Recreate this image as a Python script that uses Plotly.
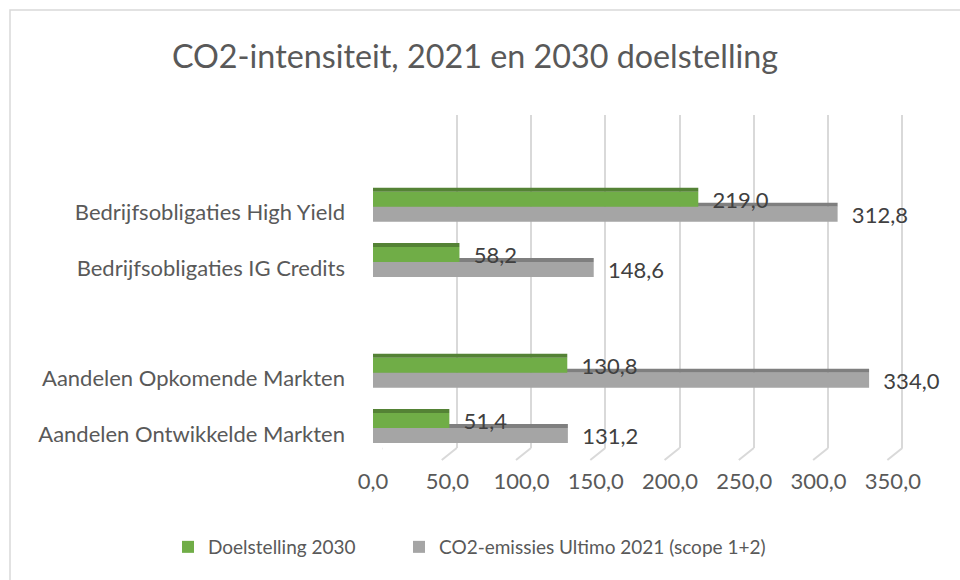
import plotly.graph_objects as go

# ---- data ----
categories = [
    "Aandelen Ontwikkelde Markten",
    "Aandelen Opkomende Markten",
    " ",
    "Bedrijfsobligaties IG Credits",
    "Bedrijfsobligaties High Yield",
]
doel_2030 = [51.4, 130.8, None, 58.2, 219.0]
ultimo_2021 = [131.2, 334.0, None, 148.6, 312.8]
x_ticks = [0, 50, 100, 150, 200, 250, 300, 350]

series_names = ["Doelstelling 2030", "CO2-emissies Ultimo 2021 (scope 1+2)"]
title_text = "CO2-intensiteit, 2021 en 2030 doelstelling"

# ---- style ----
FONT = "Lato, Carlito, Calibri, sans-serif"
GREEN = "#70AD47"
GREEN_TOP = "#548235"
GRAY = "#A5A5A5"
GRAY_TOP = "#7F7F7F"
GRID = "#D9D9D9"
TXT = "#595959"
LBL = "#404040"
FS = 22
LEG_FS = 19

W, H = 960, 580
ML, MR, MT, MB = 373, 30, 115, 120
PW, PH = W - ML - MR, H - MT - MB
XMAX = 375
SHIFT = 9.5  # back-wall shift in px

BAR = 0.271
TOP = 0.072

fig = go.Figure()

common = dict(orientation="h", xaxis="x2", yaxis="y2", cliponaxis=False)

# gray top face (behind)
fig.add_trace(go.Bar(
    y=categories, x=ultimo_2021, offset=0, width=TOP,
    marker=dict(color=GRAY_TOP, line=dict(width=0)), showlegend=False,
    hoverinfo="skip", **common))
# gray front
fig.add_trace(go.Bar(
    y=categories, x=ultimo_2021, offset=-BAR, width=BAR,
    name=series_names[1], legend="legend2",
    marker=dict(color=GRAY, line=dict(width=0)),
    texttemplate="\u00a0\u00a0%{x:.1f}", textposition="outside",
    constraintext="none",
    textfont=dict(family=FONT, size=FS, color=LBL), **common))
# green front
fig.add_trace(go.Bar(
    y=categories, x=doel_2030, offset=0, width=BAR,
    name=series_names[0], legend="legend",
    marker=dict(color=GREEN, line=dict(width=0)),
    texttemplate="\u00a0\u00a0%{x:.1f}", textposition="outside",
    constraintext="none",
    textfont=dict(family=FONT, size=FS, color=LBL), **common))
# green top face
fig.add_trace(go.Bar(
    y=categories, x=doel_2030, offset=BAR, width=TOP,
    marker=dict(color=GREEN_TOP, line=dict(width=0)), showlegend=False,
    hoverinfo="skip", **common))

# floor diagonals from the back wall to the front edge
shapes = []
for v in x_ticks:
    shapes.append(dict(
        type="line", xref="x", yref="y domain",
        xsizemode="pixel", xanchor=v, x0=0, x1=-15,
        ysizemode="pixel", yanchor=0, y0=0, y1=-12,
        line=dict(color=GRID, width=2), layer="below"))
# outer chart border
shapes.append(dict(
    type="rect", xref="paper", yref="paper",
    x0=(10 - ML) / PW, x1=1.3, y0=-0.6, y1=(PH + MT - 10) / PH,
    line=dict(color=GRID, width=1.5), layer="below"))

legend_y = -(547 - (MT + PH)) / PH
legend_common = dict(orientation="h", xanchor="left", y=legend_y,
                     yanchor="middle",
                     font=dict(family=FONT, size=LEG_FS, color=TXT),
                     itemclick=False, bgcolor="rgba(0,0,0,0)")

fig.update_layout(
    width=W, height=H,
    margin=dict(l=ML, r=MR, t=MT, b=MB, autoexpand=False),
    paper_bgcolor="white", plot_bgcolor="rgba(0,0,0,0)",
    barmode="overlay",
    separators=",.",
    font=dict(family=FONT, size=FS, color=TXT),
    title=dict(text=title_text, x=475 / W, xref="container", xanchor="center",
               y=1 - 57 / H, yref="container", yanchor="middle",
               font=dict(family=FONT, size=32.3, color=TXT)),
    # back wall (gridlines)
    xaxis=dict(range=[0, XMAX - SHIFT * XMAX / PW],
               domain=[SHIFT / PW, 1], tickvals=x_ticks,
               showgrid=True, gridcolor=GRID, gridwidth=2,
               showticklabels=False, zeroline=False, showline=False,
               ticks="", anchor="y"),
    yaxis=dict(range=[0, 1], domain=[12 / PH, 1], showgrid=False,
               showticklabels=False, zeroline=False, showline=False,
               ticks="", anchor="x"),
    # front (bars, labels)
    xaxis2=dict(range=[0, XMAX], domain=[0, 1], tickvals=x_ticks,
                tickformat=".1f", showgrid=False, zeroline=False,
                showline=False, ticks="", ticklabelstandoff=6,
                tickfont=dict(family=FONT, size=FS, color=TXT),
                anchor="y2"),
    yaxis2=dict(type="category", categoryorder="array",
                categoryarray=categories, range=[-0.579, 5.443],
                domain=[0, (PH - 12) / PH],
                showgrid=False, zeroline=False, showline=False, ticks="",
                ticklabelstandoff=27, ticklabelshift=6,
                tickfont=dict(family=FONT, size=FS, color=TXT),
                anchor="x2"),
    legend=dict(x=(168 - ML) / PW, **legend_common),
    legend2=dict(x=(399 - ML) / PW, **legend_common),
    shapes=shapes,
    showlegend=True,
)

fig.write_html("out.html", config={"displayModeBar": False},
               post_script="document.body.style.margin='0px';")
